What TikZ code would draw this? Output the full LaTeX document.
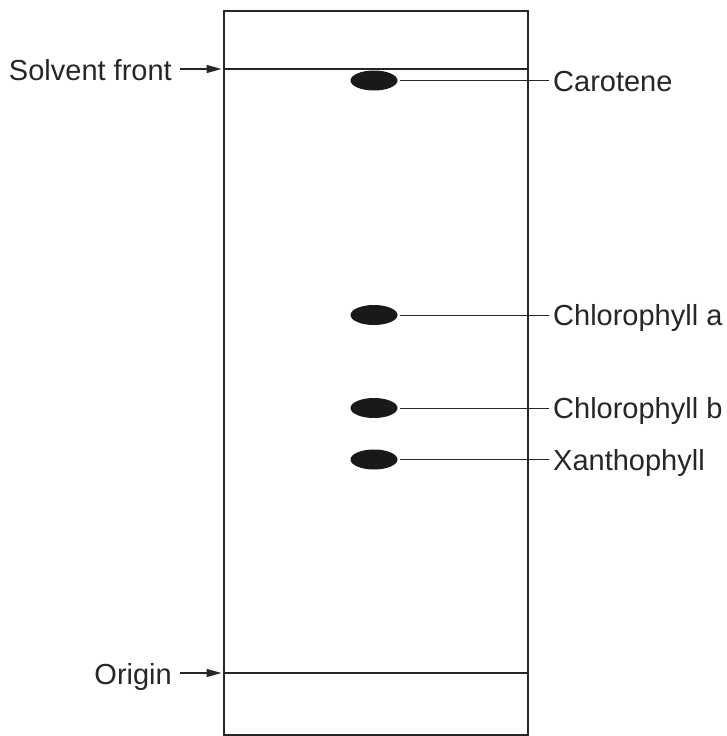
\documentclass[tikz,border=0pt]{standalone}
\usepackage{fontspec}
\setmainfont{Liberation Sans}
\usetikzlibrary{arrows.meta,shapes.geometric}
\begin{document}
\begin{tikzpicture}[x=1pt,y=-1pt,
  spot/.style={ellipse,fill=black!90,draw=none,minimum width=47pt,minimum height=20pt,inner sep=0pt},
  lbl/.style={anchor=base west,inner sep=0pt,font=\fontsize{29}{34}\selectfont,text=black!85},
  llbl/.style={anchor=base east,inner sep=0pt,font=\fontsize{29}{34}\selectfont,text=black!85},
  frame/.style={line width=2.4pt,draw=black!85},
  leader/.style={line width=1pt,draw=black!85},
  ptr/.style={line width=1.3pt,draw=black!85,-{Triangle[length=15pt,width=8pt]}}]
\useasboundingbox (0,0) rectangle (726,736);
% strip
\node[frame,draw,rectangle,minimum width=304pt,minimum height=724pt,inner sep=0pt,anchor=north west] (strip) at (222.5,10) {};
\coordinate (sfL) at (222.5,69);
\coordinate (sfR) at (526.5,69);
\coordinate (orL) at (222.5,673);
\coordinate (orR) at (526.5,673);
\draw[frame] (sfL) -- (sfR);
\draw[frame] (orL) -- (orR);
% labels left
\node[llbl] (sf) at (172,80) {Solvent front};
\node[llbl] (or) at (172,684) {Origin};
\draw[ptr] (sf.base east) ++(8,-11) coordinate (sfa) -- ([xshift=-1pt]sfL);
\draw[ptr] (or.base east) ++(8,-11) coordinate (ora) -- ([xshift=-1pt]orL);
% spots
\node[spot] (car) at (374,80.5) {};
\node[spot] (cha) at (374,315) {};
\node[spot] (chb) at (374,408) {};
\node[spot] (xan) at (374,459.5) {};
% labels right
\node[lbl] (carl) at (553,91) {Carotene};
\node[lbl] (chal) at (553,325.5) {Chlorophyll a};
\node[lbl] (chbl) at (553,418.5) {Chlorophyll b};
\node[lbl] (xanl) at (553,470) {Xanthophyll};
\draw[leader] ([xshift=2pt]car.east) -- ([xshift=-4pt]car.east -| carl.west);
\draw[leader] ([xshift=2pt]cha.east) -- ([xshift=-4pt]cha.east -| chal.west);
\draw[leader] ([xshift=2pt]chb.east) -- ([xshift=-4pt]chb.east -| chbl.west);
\draw[leader] ([xshift=2pt]xan.east) -- ([xshift=-4pt]xan.east -| xanl.west);
\end{tikzpicture}
\end{document}
